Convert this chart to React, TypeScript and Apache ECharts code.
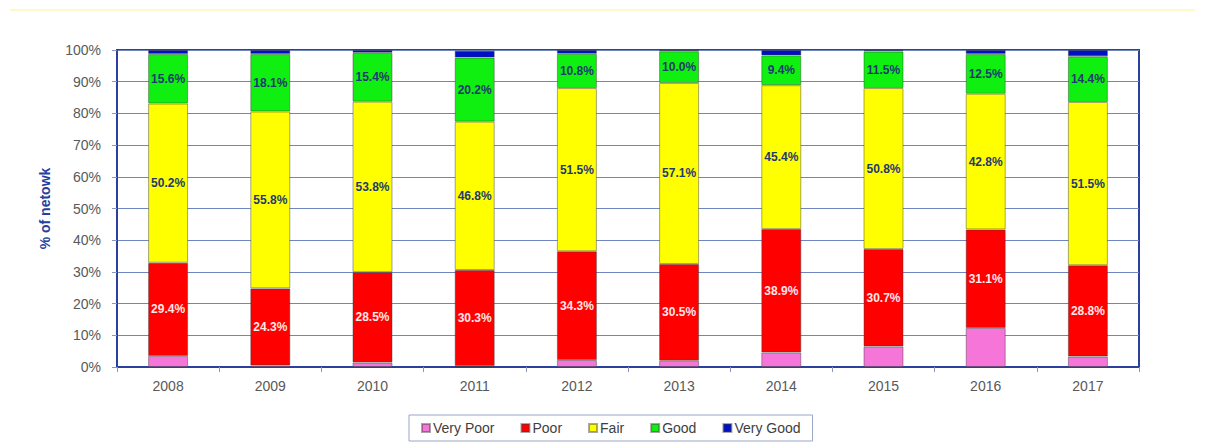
import React, { useEffect, useRef } from "react";
import * as echarts from "echarts";

const years = ["2008", "2009", "2010", "2011", "2012", "2013", "2014", "2015", "2016", "2017"];
const veryPoor = [3.5, 0.5, 1.4, 0.3, 2.2, 2.0, 4.6, 6.5, 12.3, 3.3];
const poor = [29.4, 24.3, 28.5, 30.3, 34.3, 30.5, 38.9, 30.7, 31.1, 28.8];
const fair = [50.2, 55.8, 53.8, 46.8, 51.5, 57.1, 45.4, 50.8, 42.8, 51.5];
const good = [15.6, 18.1, 15.4, 20.2, 10.8, 10.0, 9.4, 11.5, 12.5, 14.4];
const veryGood = [1.3, 1.3, 0.9, 2.2, 1.2, 0.4, 1.7, 0.5, 1.3, 2.0];
const yTicks = [0, 10, 20, 30, 40, 50, 60, 70, 80, 90, 100];

const FONT = "'Liberation Sans', 'DejaVu Sans', sans-serif";

export default function App() {
  const ref = useRef<HTMLDivElement>(null);
  useEffect(() => {
    document.body.style.margin = "0";
    const chart = echarts.init(ref.current!, null, { renderer: "svg" });
    const mk = (name: string, data: number[], color: string, label: any) => ({
      name,
      type: "bar",
      stack: "total",
      data,
      barWidth: 40,
      itemStyle: { color, borderColor: "rgba(60,60,60,0.45)", borderWidth: 1 },
      label,
    });
    const lbl = (color: string) => ({
      show: true,
      position: "inside",
      color,
      fontSize: 12,
      fontWeight: "bold",
      fontFamily: FONT,
      formatter: (p: any) => p.value.toFixed(1) + "%",
    });
    chart.setOption({
      animation: false,
      backgroundColor: "#ffffff",
      graphic: [
        {
          type: "line",
          shape: { x1: 10, y1: 10, x2: 1195, y2: 10 },
          style: { stroke: "#fff8c8", lineWidth: 2 },
        },
      ],
      grid: {
        left: 117,
        right: 69,
        top: 50,
        bottom: 79,
        show: true,
        borderColor: "#2b3f9e",
        borderWidth: 2,
        backgroundColor: "transparent",
      },
      legend: {
        bottom: 5,
        left: 409,
        itemWidth: 8,
        itemHeight: 8,
        itemGap: 26,
        padding: [6, 12, 6, 12],
        borderColor: "#9aa6c8",
        borderWidth: 1,
        textStyle: { color: "#404040", fontSize: 14, fontFamily: FONT, padding: [0, 0, 0, -2] },
        icon: "rect",
        data: ["Very Poor", "Poor", "Fair", "Good", "Very Good"],
      },
      xAxis: {
        type: "category",
        data: years,
        axisLine: { lineStyle: { color: "#2b3f9e", width: 2 } },
        axisTick: { show: true, length: 5, lineStyle: { color: "#8a96c0" } },
        axisLabel: { color: "#595959", fontSize: 14, fontFamily: FONT, margin: 12 },
      },
      yAxis: {
        type: "value",
        min: yTicks[0],
        max: yTicks[yTicks.length - 1],
        interval: 10,
        name: "% of netowk",
        nameLocation: "middle",
        nameGap: 65,
        nameRotate: 90,
        nameTextStyle: { color: "#2440a0", fontSize: 14, fontWeight: "bold", fontFamily: FONT },
        axisLine: { show: true, lineStyle: { color: "#2b3f9e", width: 2 } },
        axisTick: { show: true, length: 5, lineStyle: { color: "#8a96c0" } },
        splitLine: { lineStyle: { color: "#6f86c0", width: 1 } },
        axisLabel: {
          color: "#595959",
          fontSize: 14,
          fontFamily: FONT,
          margin: 16,
          formatter: (v: number) => v + "%",
        },
      },
      series: [
        mk("Very Poor", veryPoor, "#f576d8", { show: false }),
        mk("Poor", poor, "#ff0000", lbl("#ffe8e8")),
        mk("Fair", fair, "#ffff00", lbl("#1f3a70")),
        mk("Good", good, "#10f010", lbl("#1f3a70")),
        mk("Very Good", veryGood, "#0010c8", { show: false }),
      ],
    });
    return () => chart.dispose();
  }, []);
  return <div ref={ref} style={{ width: 1208, height: 446 }} />;
}
